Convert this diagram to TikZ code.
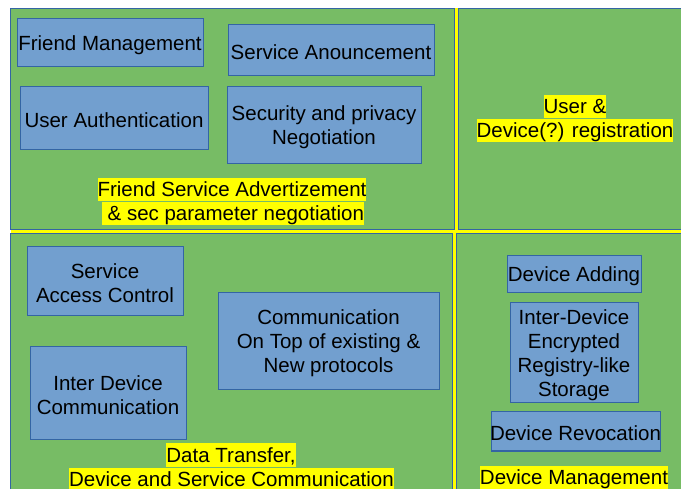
\documentclass[tikz,border=0pt]{standalone}
\usepackage{fontspec}
\setmainfont{Liberation Sans}
\definecolor{areagreen}{HTML}{77BC65}
\definecolor{boxfill}{HTML}{729FCF}
\definecolor{edgeblue}{HTML}{3465A4}
\definecolor{hlyellow}{HTML}{FFFF00}
\tikzset{
  area/.style={draw=edgeblue, fill=areagreen, line width=1pt},
  func/.style={draw=edgeblue, fill=boxfill, line width=1pt, inner sep=0pt},
  functext/.style={inner sep=0pt, align=center, yshift=-2pt,
    font=\fontsize{20.5}{24}\selectfont},
  hl/.style={fill=hlyellow, inner sep=0pt, text height=18.5pt, text depth=4.5pt,
    anchor=base, font=\fontsize{20.5}{24}\selectfont}
}
\begin{document}
\begin{tikzpicture}[x=1pt, y=-1pt]
\useasboundingbox (0,0) rectangle (681,489);
\clip (0,0) rectangle (681,489);

% yellow separators show through the gaps between the four areas
\fill[hlyellow] (10.5,8.5) rectangle (700,500);
\draw[area] (10.5,8.5) rectangle (454.5,229.5);
\draw[area] (458.5,8.5) rectangle (700,229.5);
\draw[area] (10.5,233.5) rectangle (452.5,500);
\draw[area] (456.5,233.5) rectangle (700,500);

% top-left area
\node[func, minimum width=186pt, minimum height=48pt] (fm) at (110,43) {};
\node[functext] (fmt) at (fm.center) {Friend Management};
\node[func, minimum width=206pt, minimum height=51pt] (sa) at (331,50.5) {};
\node[functext] (sat) at (sa.center) {Service Anouncement};
\node[func, minimum width=188pt, minimum height=63pt] (ua) at (114,118.5) {};
\node[functext] (uat) at (ua.center) {User Authentication};
\node[func, minimum width=194pt, minimum height=77pt] (sp) at (324,125.5) {};
\node[functext] (spt) at (sp.center) {Security and privacy\\Negotiation};
\node[hl] (fsa1) at (232,197) {Friend Service Advertizement\ };
\node[hl] (fsa2) at (233,221) {\ \& sec parameter negotiation};

% top-right area
\node[hl] (ur1) at (575,114) {User \&\ };
\node[hl] (ur2) at (575,138) {Device(?) registration};

% bottom-left area
\node[func, minimum width=156pt, minimum height=69pt] (sac) at (105,281.5) {};
\node[functext] (sact) at (sac.center) {Service\\Access Control};
\node[func, minimum width=221pt, minimum height=97pt] (cot) at (328.5,341.5) {};
\node[functext] (cott) at (cot.center) {Communication\\On Top of existing \&\\New protocols};
\node[func, minimum width=156pt, minimum height=93pt] (idc) at (108,393.5) {};
\node[functext] (idct) at (idc.center) {Inter Device\\Communication};
\node[hl] (dt1) at (231,462) {Data Transfer,\ };
\node[hl] (dt2) at (231.5,486) {Device and Service Communication};

% bottom-right area
\node[func, minimum width=134pt, minimum height=37pt] (da) at (574,274.5) {};
\node[functext] (dat) at (da.center) {Device Adding};
\node[func, minimum width=128pt, minimum height=100pt] (ids) at (574,353) {};
\node[functext] (idst) at (ids.center) {Inter-Device\\Encrypted\\Registry-like\\Storage};
\node[func, minimum width=169pt, minimum height=39pt] (dr) at (575.5,431.5) {};
\node[functext] (drt) at (dr.center) {Device Revocation};
\node[hl] (dm) at (574,484) {Device Management};
\end{tikzpicture}
\end{document}
